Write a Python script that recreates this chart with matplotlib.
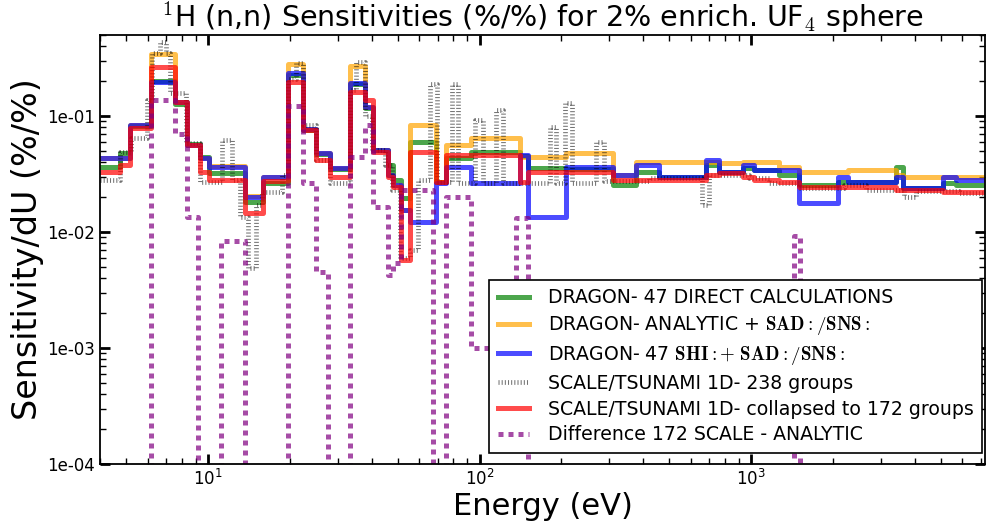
import numpy as np
import matplotlib
matplotlib.use("Agg")
import matplotlib.pyplot as plt
from matplotlib.ticker import FuncFormatter, LogLocator, NullFormatter

plt.rcParams['mathtext.fontset'] = 'cm'
plt.rcParams['font.family'] = ['DejaVu Sans']

# ---------------- data ----------------
edges_47 = [4.0, 4.75, 5.15, 6.19, 7.54, 8.33, 9.33, 10.1, 13.65, 15.9, 19.65, 22.3,
            25.05, 28.05, 33.2, 37.7, 40.4, 45.85, 47.8, 51.5, 55.3, 69.3, 75.4, 93.2,
            140.4, 150.2, 208.5, 309.5, 377.3, 459.6, 683, 764, 931, 1028, 1271, 1506,
            2083, 2268, 3418, 3614, 5073, 5683, 7400]

dragon_direct = [0.0366, 0.0477, 0.082, 0.20, 0.128, 0.057, 0.0443, 0.0321, 0.0182,
                 0.0263, 0.225, 0.0757, 0.047, 0.035, 0.19, 0.118, 0.051, 0.0378,
                 0.0281, 0.0196, 0.060, 0.0271, 0.0432, 0.0492, 0.045, 0.0354, 0.035,
                 0.0254, 0.0331, 0.030, 0.0378, 0.0331, 0.0354, 0.0342, 0.031, 0.0254,
                 0.0271, 0.0271, 0.0366, 0.0242, 0.0263, 0.0254]

dragon_analytic = [0.0432, 0.0435, 0.084, 0.345, 0.133, 0.056, 0.0435, 0.037, 0.0205,
                   0.030, 0.28, 0.077, 0.0477, 0.0354, 0.27, 0.12, 0.0509, 0.031,
                   0.0254, 0.0155, 0.0836, 0.0271, 0.0562, 0.0642, 0.0443, 0.0443,
                   0.0477, 0.031, 0.0404, 0.0404, 0.0404, 0.0391, 0.0404, 0.0404,
                   0.0366, 0.0331, 0.0331, 0.0342, 0.031, 0.030, 0.030, 0.030]

dragon_shi = [0.0432, 0.0435, 0.0836, 0.1975, 0.133, 0.056, 0.0435, 0.0366, 0.0201,
              0.030, 0.236, 0.077, 0.0477, 0.0354, 0.191, 0.12, 0.0509, 0.031, 0.0254,
              0.0155, 0.0123, 0.0264, 0.0366, 0.0263, 0.0461, 0.01355, 0.0366, 0.031,
              0.0378, 0.030, 0.0418, 0.0331, 0.0378, 0.0342, 0.0342, 0.0177, 0.030,
              0.0271, 0.030, 0.0242, 0.030, 0.0281]

edges_238 = [4.0, 4.73, 5.19, 5.95, 6.21, 6.64, 6.99, 7.23, 8.28, 9.32, 11.23, 12.22,
             13.08, 14.0, 14.98, 15.76, 18.68, 19.65, 21.03, 22.31, 24.91, 28.05, 33.23,
             34.96, 37.73, 40.05, 44.71, 47.44, 50.78, 55.26, 59.13, 65.46, 69.48,
             78.89, 83.0, 95.9, 102.6, 114.6, 121.5, 181.0, 190.4, 205.5, 218.1, 267.3,
             286.1, 422.5, 662, 702, 985, 1168, 1506, 2205, 2657, 3666, 4059, 5845, 7400]
scale_238 = [0.0281, 0.049, 0.065, 0.137, 0.35, 0.437, 0.35, 0.158, 0.0585, 0.027,
             0.062, 0.028, 0.0135, 0.0049, 0.017, 0.022, 0.031, 0.21, 0.286, 0.084,
             0.042, 0.0264, 0.168, 0.293, 0.1, 0.051, 0.038, 0.023, 0.006, 0.007,
             0.028, 0.19, 0.027, 0.19, 0.0264, 0.092, 0.0264, 0.1126, 0.0264, 0.08,
             0.0264, 0.129, 0.0264, 0.06, 0.0275, 0.029, 0.017, 0.031, 0.029, 0.0264,
             0.024, 0.0254, 0.023, 0.020, 0.0225, 0.0217]

edges_172 = [4.0, 4.75, 5.15, 6.19, 7.54, 8.33, 9.33, 10.1, 13.65, 15.9, 19.65, 22.3,
             25.05, 28.05, 33.2, 37.7, 40.4, 45.85, 47.8, 51.5, 55.3, 69.3, 75.4, 140.4,
             150.2, 309.5, 683, 764, 931, 1028, 1271, 1506, 3418, 5073, 7400]
scale_172 = [0.0331, 0.0378, 0.079, 0.266, 0.133, 0.0562, 0.0331, 0.0281, 0.0146,
             0.0276, 0.1975, 0.0757, 0.0418, 0.030, 0.162, 0.137, 0.0492, 0.030,
             0.0246, 0.0057, 0.0492, 0.0271, 0.0465, 0.0271, 0.0331, 0.0281, 0.031,
             0.0321, 0.030, 0.0281, 0.0271, 0.0244, 0.0232, 0.0222]

edges_diff = [4.0, 6.19, 7.54, 8.33, 9.2, 11.2, 13.65, 19.65, 22.3, 25.05, 27.65, 33.2,
              37.7, 40.4, 45.85, 48.0, 51.5, 67.3, 75.4, 93.0, 136.5, 150.2, 1440, 1510,
              7400]
difference = [1e-6, 0.137, 0.07, 0.01355, 1e-6, 0.0084, 1e-6, 0.122, 0.0264, 0.00455,
              1e-6, 0.044, 0.0836, 0.0165, 0.0043, 0.0054, 0.023, 1e-6, 0.0201, 0.001,
              0.0131, 1e-6, 0.0092, 1e-6]

labels = ['DRAGON- 47 DIRECT CALCULATIONS',
          r'DRAGON- ANALYTIC + $\mathbf{SAD:/SNS:}$',
          r'DRAGON- 47 $\mathbf{SHI:+\ SAD:/SNS:}$',
          'SCALE/TSUNAMI 1D- 238 groups',
          'SCALE/TSUNAMI 1D- collapsed to 172 groups',
          'Difference 172 SCALE - ANALYTIC']

# ---------------- plot ----------------
W, H = 987, 527
fig = plt.figure(figsize=(W / 100, H / 100), dpi=100)
ax = fig.add_axes([100 / W, 1 - 464 / H, 885.5 / W, 429 / H])


def stepplot(edges, vals, **kw):
    v = list(vals) + [vals[-1]]
    return ax.step(edges, v, where='post', **kw)[0]


lw = 3.6
stepplot(edges_47, dragon_direct, color='green', alpha=0.7, lw=lw, label=labels[0])
stepplot(edges_47, dragon_analytic, color='orange', alpha=0.7, lw=lw, label=labels[1])
stepplot(edges_47, dragon_shi, color='blue', alpha=0.7, lw=lw, label=labels[2])
stepplot(edges_238, scale_238, color='black', alpha=0.55, lw=3.4,
         dashes=(0.22, 0.45), label=labels[3])
stepplot(edges_172, scale_172, color='red', alpha=0.7, lw=lw, label=labels[4])
stepplot(edges_diff, difference, color='purple', alpha=0.7, lw=lw,
         dashes=(1, 1), label=labels[5])

ax.set_xscale('log')
ax.set_yscale('log')
ax.set_xlim(4.0, 7300)
ax.set_ylim(1e-4, 0.5)

ax.yaxis.set_major_locator(LogLocator(base=10, numticks=10))
ax.yaxis.set_major_formatter(FuncFormatter(lambda v, p: '%.0e' % v))
ax.yaxis.set_minor_formatter(NullFormatter())
ax.xaxis.set_minor_formatter(NullFormatter())

ax.tick_params(which='both', direction='in', top=True, right=True, labelsize=12)
ax.tick_params(which='major', length=7, width=2)
ax.tick_params(which='minor', length=4, width=1)
for s in ax.spines.values():
    s.set_linewidth(1.3)

ax.set_title(r'$^1$H (n,n) Sensitivities (%/%) for 2% enrich. UF$_4$ sphere',
             fontsize=20.5, pad=3)
ax.set_xlabel('Energy (eV)', fontsize=22, labelpad=2)
ax.set_ylabel('Sensitivity/dU (%/%)', fontsize=24, labelpad=2)

leg = ax.legend(loc='lower right', bbox_to_anchor=(0.996, 0.026), borderaxespad=0,
                fontsize=13.6, fancybox=False, framealpha=1, edgecolor='black',
                handlelength=1.65, handletextpad=1.0, labelspacing=0.36,
                borderpad=0.45)
leg.get_frame().set_linewidth(1.2)

fig.savefig('out.png', dpi=100)
